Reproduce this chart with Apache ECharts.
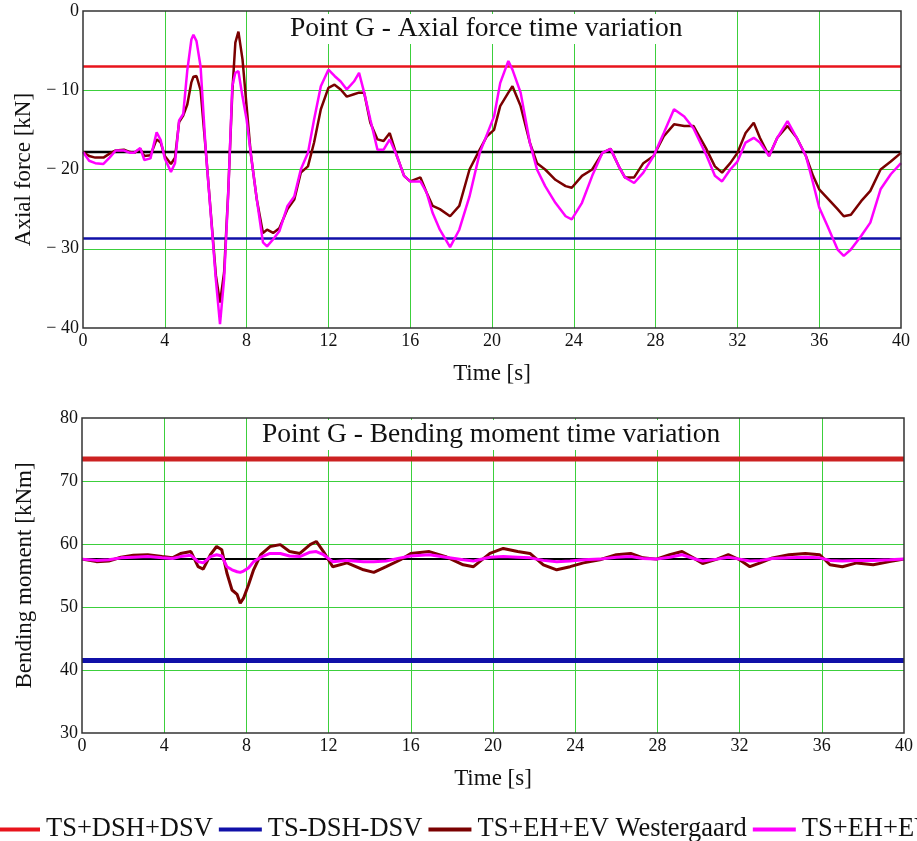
<!DOCTYPE html>
<html>
<head>
<meta charset="utf-8">
<script src="https://cdn.jsdelivr.net/npm/echarts@6/dist/echarts.min.js"></script>
<style>
html,body{margin:0;padding:0;background:#fff;}
#chart{width:917px;height:841px;}
</style>
</head>
<body>
<div id="chart"></div>
<script>
// ---------- data ----------
var seriesNames = ['TS+DSH+DSV', 'TS-DSH-DSV', 'TS+EH+EV Westergaard', 'TS+EH+EV'];
var xTicks = [0, 4, 8, 12, 16, 20, 24, 28, 32, 36, 40];

// Axial force (top)
var axialTime = [0.0,0.3,0.6,1.0,1.3,1.6,2.0,2.3,2.5,2.8,3.0,3.3,3.6,3.8,4.0,4.3,4.5,4.7,4.9,5.1,5.3,5.4,5.55,5.75,6.0,6.3,6.5,6.7,6.9,7.1,7.3,7.45,7.6,7.8,8.0,8.2,8.5,8.8,9.0,9.3,9.6,10.0,10.33,10.65,11.0,11.3,11.63,12.0,12.3,12.6,12.9,13.25,13.5,13.75,14.05,14.4,14.7,15.0,15.35,15.7,16.0,16.5,16.8,17.1,17.45,17.95,18.4,18.9,19.4,19.75,20.1,20.4,20.8,21.0,21.4,21.85,22.2,22.6,23.1,23.6,23.9,24.4,24.9,25.4,25.8,26.2,26.5,26.95,27.4,27.9,28.4,28.9,29.4,29.85,30.5,30.9,31.25,31.65,32.0,32.4,32.8,33.1,33.55,33.95,34.45,34.9,35.35,35.7,36.0,36.4,36.9,37.2,37.55,38.05,38.5,39.0,39.5,40.0];
var axialWestergaard = [-17.8,-18.3,-18.5,-18.5,-18.0,-17.6,-17.5,-17.8,-17.9,-17.4,-18.3,-18.2,-16.2,-16.6,-18.3,-19.3,-18.5,-14.0,-13.2,-11.8,-9.0,-8.3,-8.2,-10.0,-17.5,-27.1,-33.4,-36.8,-33.0,-22.9,-10.3,-4.0,-2.6,-6.1,-12.0,-17.9,-23.8,-28.0,-27.6,-28.0,-27.4,-25.0,-23.8,-20.4,-19.6,-16.6,-12.4,-9.7,-9.3,-9.9,-10.8,-10.5,-10.3,-10.3,-14.1,-16.2,-16.4,-15.4,-18.3,-20.8,-21.5,-21.0,-22.9,-24.6,-25.0,-25.9,-24.6,-20.0,-17.5,-15.8,-15.0,-12.0,-10.3,-9.5,-12.0,-16.6,-19.2,-20.0,-21.3,-22.1,-22.3,-20.8,-20.0,-17.9,-17.4,-19.6,-21.0,-21.0,-19.2,-18.3,-15.8,-14.3,-14.5,-14.5,-17.5,-19.6,-20.4,-19.2,-17.9,-15.4,-14.1,-16.0,-18.3,-16.0,-14.5,-16.0,-18.3,-20.8,-22.5,-23.6,-25.0,-25.9,-25.7,-24.0,-22.7,-20.0,-19.0,-17.9];
var axialEV = [-17.8,-18.9,-19.2,-19.3,-18.5,-17.6,-17.6,-17.9,-17.9,-17.3,-18.8,-18.6,-15.3,-16.3,-18.6,-20.3,-19.2,-13.8,-13.0,-7.5,-3.6,-3.0,-3.8,-7.0,-17.5,-27.3,-34.0,-39.5,-33.8,-23.2,-9.5,-7.8,-7.6,-10.8,-13.7,-17.9,-23.8,-29.2,-29.7,-28.8,-27.8,-24.6,-23.4,-20.0,-17.9,-13.7,-9.5,-7.4,-8.2,-8.9,-9.9,-8.9,-7.8,-10.3,-13.7,-17.5,-17.5,-16.2,-18.3,-20.8,-21.5,-21.5,-22.9,-25.5,-27.6,-29.8,-27.6,-23.4,-17.9,-15.6,-13.3,-9.1,-6.3,-7.4,-10.3,-16.6,-20.0,-22.1,-24.2,-25.9,-26.3,-24.2,-20.8,-17.9,-17.4,-19.6,-21.0,-21.7,-20.4,-18.3,-15.4,-12.4,-13.3,-14.8,-18.3,-20.8,-21.5,-20.0,-19.0,-16.6,-16.0,-16.6,-18.3,-16.0,-13.9,-16.0,-18.3,-21.7,-24.8,-27.1,-30.1,-30.9,-30.1,-28.4,-26.7,-22.5,-20.6,-19.2];
var axialUpper = -7.0;
var axialLower = -28.7;
var axialMean = -17.8;
var axialTicks = [-40, -30, -20, -10, 0];

// Bending moment (bottom)
var bendTime = [0.0,0.7,1.3,1.9,2.5,3.2,3.9,4.4,4.8,5.3,5.65,5.9,6.25,6.55,6.8,7.05,7.3,7.55,7.7,7.86,8.1,8.35,8.7,9.15,9.65,10.1,10.6,11.1,11.4,11.75,12.2,12.9,13.7,14.2,14.8,15.5,16.0,16.9,17.7,18.55,19.05,19.85,20.5,21.2,21.8,22.45,23.1,23.75,24.4,25.2,26.0,26.7,27.3,27.95,28.6,29.2,29.75,30.2,30.9,31.45,32.0,32.5,33.0,33.6,34.4,35.2,35.9,36.4,37.0,37.7,38.5,39.3,40.0];
var bendWestergaard = [57.6,57.2,57.3,57.9,58.2,58.3,58.0,57.8,58.5,58.8,56.4,56.0,58.3,59.6,59.1,55.4,52.7,52.0,50.6,51.4,53.5,55.9,58.3,59.6,59.9,58.8,58.5,59.9,60.4,58.8,56.4,57.0,55.9,55.5,56.4,57.5,58.5,58.8,58.0,56.7,56.4,58.5,59.3,58.8,58.5,56.7,55.9,56.4,57.0,57.5,58.3,58.5,57.8,57.6,58.3,58.8,57.8,56.9,57.6,58.3,57.5,56.4,57.0,57.8,58.3,58.5,58.3,56.7,56.4,57.0,56.7,57.2,57.6];
var bendEV = [57.6,57.4,57.5,57.8,57.9,58.0,57.8,57.7,58.0,58.2,57.2,57.0,58.0,58.3,58.1,56.4,55.9,55.6,55.5,55.7,56.2,57.2,57.9,58.5,58.5,58.1,58.0,58.7,58.8,58.3,57.2,57.4,57.2,57.2,57.3,57.8,58.1,58.3,57.9,57.5,57.3,57.9,58.0,57.9,57.8,57.4,57.2,57.3,57.5,57.6,57.9,58.0,57.7,57.6,57.9,58.3,57.7,57.3,57.6,57.9,57.6,57.3,57.4,57.7,57.8,57.9,57.8,57.4,57.3,57.4,57.4,57.5,57.6];
var bendUpper = 73.5;
var bendLower = 41.5;
var bendMean = 57.6;
var bendTicks = [30, 40, 50, 60, 70, 80];

// ---------- helpers ----------
function pairs(t, v) { return t.map(function (x, i) { return [x, v[i]]; }); }
function hline(val) { return [[xTicks[0], val], [xTicks[xTicks.length - 1], val]]; }

var FONT = '"Liberation Serif", "Times New Roman", serif';
var GREEN = '#3ccf3c';
var C_RED = '#e8141c', C_RED2 = '#cc2222', C_BLUE = '#1010a8', C_DRED = '#7a0000', C_MAG = '#ff00ff';

function fmtNeg(v) { return v < 0 ? '\u2212 ' + Math.abs(v) : String(v); }

function xAxisCfg(gi) {
  return {
    type: 'value', gridIndex: gi, min: 0, max: 40, interval: 4,
    name: 'Time [s]', nameLocation: 'middle', nameGap: 34,
    nameTextStyle: { fontFamily: FONT, fontSize: 23, color: '#111' },
    axisLine: { show: false }, axisTick: { show: false },
    axisLabel: { fontFamily: FONT, fontSize: 18, color: '#111', margin: 4 },
    splitLine: { show: true, showMinLine: false, showMaxLine: false, lineStyle: { color: GREEN, width: 1 } }
  };
}
function yAxisCfg(gi, mn, mx, name, gap) {
  return {
    type: 'value', gridIndex: gi, min: mn, max: mx, interval: 10,
    name: name, nameLocation: 'middle', nameGap: gap, nameRotate: 90,
    nameTextStyle: { fontFamily: FONT, fontSize: 23, color: '#111' },
    axisLine: { show: false }, axisTick: { show: false },
    axisLabel: { fontFamily: FONT, fontSize: 18, color: '#111', margin: 4, formatter: fmtNeg },
    splitLine: { show: true, showMinLine: false, showMaxLine: false, lineStyle: { color: GREEN, width: 1 } }
  };
}
function lineS(name, xi, data, color, width, z) {
  return {
    type: 'line', name: name, xAxisIndex: xi, yAxisIndex: xi, data: data,
    showSymbol: false, symbol: 'none', silent: true, animation: false, z: z,
    lineStyle: { color: color, width: width }, itemStyle: { color: color }
  };
}

var chart = echarts.init(document.getElementById('chart'), null, { renderer: 'canvas' });
chart.setOption({
  backgroundColor: '#fff',
  animation: false,
  title: [
    { text: 'Point G - Axial force time variation', left: 286, top: 14,
      textStyle: { fontFamily: FONT, fontSize: 27.5, fontWeight: 'normal', color: '#111' },
      backgroundColor: '#fff', padding: [1, 4, 1, 4], z: 10 },
    { text: 'Point G - Bending moment time variation', left: 258, top: 420,
      textStyle: { fontFamily: FONT, fontSize: 27.5, fontWeight: 'normal', color: '#111' },
      backgroundColor: '#fff', padding: [1, 4, 1, 4], z: 10 }
  ],
  legend: {
    data: seriesNames, left: -8, top: 811, width: 1600, orient: 'horizontal',
    icon: 'rect', itemWidth: 43, itemHeight: 4, itemGap: 6,
    textStyle: { fontFamily: FONT, fontSize: 26.5, color: '#111', padding: [0, 0, 0, 1] }
  },
  grid: [
    { left: 83, top: 11, right: 16, height: 317, show: true, borderColor: '#333', borderWidth: 1.5, backgroundColor: 'transparent', z: 6 },
    { left: 82, top: 418, right: 13, height: 315, show: true, borderColor: '#333', borderWidth: 1.5, backgroundColor: 'transparent', z: 6 }
  ],
  xAxis: [xAxisCfg(0), xAxisCfg(1)],
  yAxis: [yAxisCfg(0, axialTicks[0], axialTicks[axialTicks.length - 1], 'Axial force [kN]', 46),
          yAxisCfg(1, bendTicks[0], bendTicks[bendTicks.length - 1], 'Bending moment [kNm]', 46)],
  series: [
    lineS('', 0, hline(axialMean), '#000', 2.5, 2),
    lineS(seriesNames[0], 0, hline(axialUpper), C_RED, 2.5, 3),
    lineS(seriesNames[1], 0, hline(axialLower), C_BLUE, 2.5, 3),
    lineS(seriesNames[2], 0, pairs(axialTime, axialWestergaard), C_DRED, 2.5, 4),
    lineS(seriesNames[3], 0, pairs(axialTime, axialEV), C_MAG, 2.5, 5),
    lineS('', 1, hline(bendMean), '#000', 2, 2),
    lineS(seriesNames[0], 1, hline(bendUpper), C_RED2, 5, 3),
    lineS(seriesNames[1], 1, hline(bendLower), C_BLUE, 5, 3),
    lineS(seriesNames[2], 1, pairs(bendTime, bendWestergaard), C_DRED, 3, 4),
    lineS(seriesNames[3], 1, pairs(bendTime, bendEV), C_MAG, 3, 5)
  ]
});
</script>
</body>
</html>
